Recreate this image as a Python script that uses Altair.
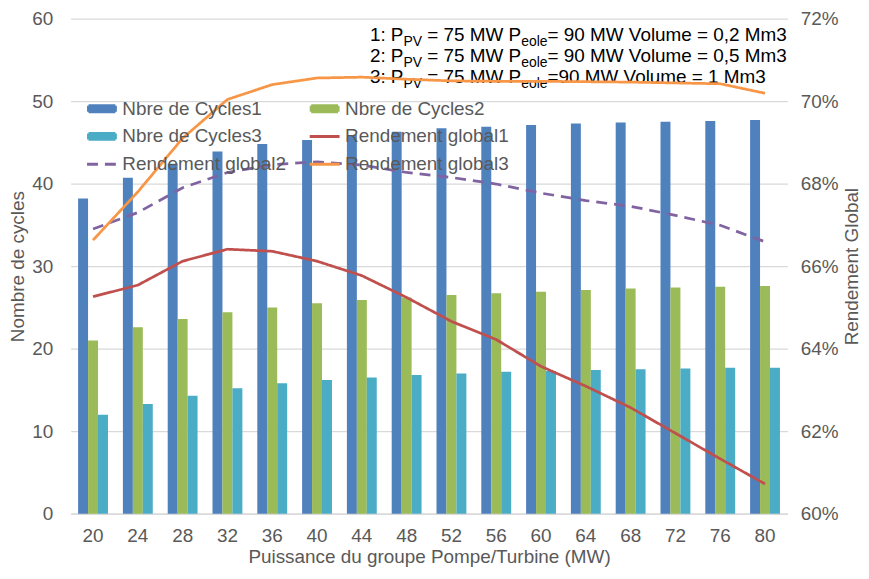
import altair as alt
import pandas as pd

# ---------------- data ----------------
P = [20, 24, 28, 32, 36, 40, 44, 48, 52, 56, 60, 64, 68, 72, 76, 80]

cycles1 = [38.2, 40.7, 42.4, 43.9, 44.8, 45.3, 45.9, 46.3, 46.7, 46.9, 47.1, 47.3, 47.4, 47.5, 47.6, 47.7]
cycles2 = [21.0, 22.6, 23.6, 24.4, 25.0, 25.5, 25.9, 26.2, 26.5, 26.7, 26.9, 27.1, 27.3, 27.4, 27.5, 27.6]
cycles3 = [12.0, 13.3, 14.3, 15.2, 15.8, 16.2, 16.5, 16.8, 17.0, 17.2, 17.3, 17.4, 17.5, 17.6, 17.7, 17.7]

rend1 = [65.26, 65.54, 66.12, 66.41, 66.36, 66.12, 65.77, 65.24, 64.66, 64.22, 63.57, 63.09, 62.57, 61.95, 61.33, 60.72]
rend2 = [66.90, 67.30, 67.90, 68.27, 68.46, 68.53, 68.45, 68.27, 68.15, 67.99, 67.77, 67.59, 67.45, 67.23, 66.99, 66.59]
rend3 = [66.63, 67.80, 69.10, 70.04, 70.40, 70.56, 70.58, 70.53, 70.49, 70.48, 70.48, 70.47, 70.46, 70.44, 70.42, 70.19]

bar_names = ["Nbre de Cycles1", "Nbre de Cycles2", "Nbre de Cycles3"]
line_names = ["Rendement global1", "Rendement global2", "Rendement global3"]
series_names = bar_names + line_names
series_colors = ["#4F81BD", "#9BBB59", "#4BACC6", "#C0504D", "#8064A2", "#F79646"]

left_ticks = [0, 10, 20, 30, 40, 50, 60]
right_ticks = [0.60, 0.62, 0.64, 0.66, 0.68, 0.70, 0.72]

ann_lines = [
    [("1: P", "main"), ("PV", "sub"), (" = 75 MW P", "main"), ("eole", "sub"), ("= 90 MW Volume = 0,2 Mm3", "main")],
    [("2: P", "main"), ("PV", "sub"), (" = 75 MW P", "main"), ("eole", "sub"), ("= 90 MW Volume = 0,5 Mm3", "main")],
    [("3: P", "main"), ("PV", "sub"), (" = 75 MW P", "main"), ("eole", "sub"), ("=90 MW Volume = 1 Mm3", "main")],
]

# ---------------- tables ----------------
bar_rows = []
for name, vals in zip(bar_names, [cycles1, cycles2, cycles3]):
    for p, v in zip(P, vals):
        bar_rows.append({"P": p, "series": name, "value": v})
bars_df = pd.DataFrame(bar_rows)

line_rows = []
for name, vals in zip(line_names, [rend1, rend2, rend3]):
    for p, v in zip(P, vals):
        line_rows.append({"P": p, "series": name, "value": v / 100.0})
lines_df = pd.DataFrame(line_rows)

# ---------------- style ----------------
FONT = "Liberation Sans"
GRAY = "#595959"
GRID = "#D9D9D9"
FS = 19
SUB_FS = 14

W, H = 721, 498
PAD = {"left": 63, "top": 9, "right": 74, "bottom": 55}

color_scale = alt.Scale(domain=series_names, range=series_colors)

is_bar = "indexof(datum.value, 'Nbre') === 0"
RECT = "M-0.9,-0.2H0.9V0.2H-0.9Z"
LINE = "M-1,0H1"
legend = alt.Legend(
    title=None, orient="none", legendX=15, legendY=74, columns=2, direction="horizontal",
    columnPadding=17, rowPadding=1, padding=0,
    labelFont=FONT, labelFontSize=FS, labelColor=GRAY, labelOffset=4, labelLimit=400,
    symbolSize=900, symbolStrokeWidth=3,
    symbolType={"expr": f"{is_bar} ? '{RECT}' : '{LINE}'"},
    symbolDash={"expr": "datum.value === 'Rendement global2' ? [11, 7] : [1, 0]"},
    symbolOpacity=1,
)

x_enc = alt.X(
    "P:O", sort=P,
    scale=alt.Scale(paddingInner=1 / 3, paddingOuter=1 / 6),
    axis=alt.Axis(
        title="Puissance du groupe Pompe/Turbine (MW)", labelAngle=0, ticks=False,
        domainColor=GRID, domainWidth=1.5, grid=False,
        labelFont=FONT, labelFontSize=FS, labelColor=GRAY, labelPadding=13,
        titleFont=FONT, titleFontSize=FS, titleColor=GRAY, titleFontWeight="normal", titlePadding=2,
    ),
)

bars = alt.Chart(bars_df).mark_bar().encode(
    x=x_enc,
    xOffset=alt.XOffset("series:N", sort=bar_names, scale=alt.Scale(paddingInner=0, paddingOuter=0)),
    y=alt.Y(
        "value:Q", scale=alt.Scale(domain=[0, 60], nice=False),
        axis=alt.Axis(
            title="Nombre de cycles", values=left_ticks, grid=True, gridColor=GRID, gridWidth=1.2,
            domain=False, ticks=False,
            labelFont=FONT, labelFontSize=FS, labelColor=GRAY, labelPadding=18,
            titleFont=FONT, titleFontSize=FS, titleColor=GRAY, titleFontWeight="normal", titlePadding=4,
        ),
    ),
    color=alt.Color("series:N", scale=color_scale, legend=legend),
)

lines = alt.Chart(lines_df).mark_line(strokeWidth=2.75).encode(
    x=alt.X("P:O", sort=P),
    y=alt.Y(
        "value:Q", scale=alt.Scale(domain=[0.60, 0.72], nice=False),
        axis=alt.Axis(
            orient="right", title="Rendement Global", values=right_ticks, format=".0%",
            grid=False, domain=False, ticks=False,
            labelFont=FONT, labelFontSize=FS, labelColor=GRAY, labelPadding=13,
            titleFont=FONT, titleFontSize=FS, titleColor=GRAY, titleFontWeight="normal",
            titlePadding=4, titleAngle=270, titleBaseline="top",
        ),
    ),
    color=alt.Color("series:N", scale=color_scale, legend=legend),
    strokeDash=alt.StrokeDash(
        "series:N", scale=alt.Scale(domain=line_names, range=[[1, 0], [11, 7], [1, 0]]), legend=None
    ),
)

# ---------------- annotation (text with subscripts) ----------------
ARIAL = {" ": 278, ":": 278, ",": 278, "=": 584, "P": 667, "V": 667, "M": 833, "W": 944,
         "o": 556, "l": 222, "u": 556, "m": 833, "e": 556}


def text_width(s, size):
    return sum(ARIAL.get(c, 556) for c in s) * size / 1000.0


ann_x0 = 372 - 71
ann_baselines = [40 - 17, 61 - 17, 82 - 17]
text_layers = []
for base, segs in zip(ann_baselines, ann_lines):
    cx = ann_x0
    for s, kind in segs:
        size = FS if kind == "main" else SUB_FS
        dy = 0 if kind == "main" else 5
        stripped = s.lstrip(" ")
        lead = text_width(s[: len(s) - len(stripped)], size)
        text_layers.append(
            alt.Chart(alt.Data(values=[{}])).mark_text(
                text=stripped, font=FONT, fontSize=size, color="#000000",
                align="left", baseline="alphabetic",
            ).encode(x=alt.value(cx + lead), y=alt.value(base + dy))
        )
        cx += text_width(s, size)

chart = (
    alt.layer(*text_layers, bars, lines)
    .resolve_scale(y="independent")
    .properties(width=W, height=H, padding=PAD, autosize=alt.AutoSizeParams(type="none"))
    .configure_view(stroke=None)
)

chart.save("out.html", embed_options={"renderer": "svg", "actions": False})
